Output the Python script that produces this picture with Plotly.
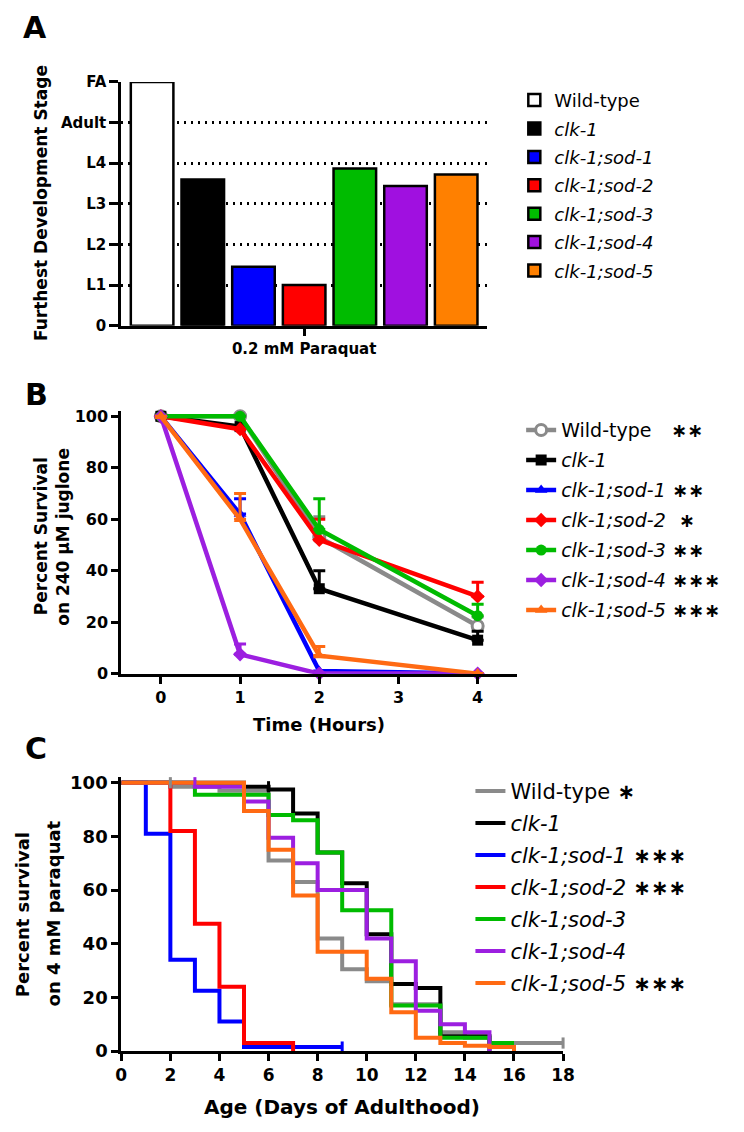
import plotly.graph_objects as go

# The page body has an 8px margin, so the figure is sized to fit the window exactly.
PAGE_W, PAGE_H = 744, 1132
OFF = 8
W, H = PAGE_W - 2 * OFF, PAGE_H - 2 * OFF
FONT = "DejaVu Sans"

# ---------------- data ----------------
strain_names = ["Wild-type", "<i>clk-1</i>", "<i>clk-1;sod-1</i>", "<i>clk-1;sod-2</i>",
                "<i>clk-1;sod-3</i>", "<i>clk-1;sod-4</i>", "<i>clk-1;sod-5</i>"]

# Panel A
stage_ticks = [0, 1, 2, 3, 4, 5, 6]
stage_labels = ["0", "L1", "L2", "L3", "L4", "Adult", "FA"]
stage_values = [6.0, 3.6, 1.45, 1.0, 3.87, 3.44, 3.72]
condition = ["0.2 mM Paraquat"]
colors_a = ["#ffffff", "#000000", "#0000ff", "#ff0000", "#00bb00", "#a010e0", "#ff8000"]

# Panel B
hours = [0, 1, 2, 4]
b_wt = [100, 100, 53, 18.5]
b_wt_err = [0, 0, 8, 3.5]
b_clk1 = [100, 96, 33, 13]
b_clk1_err = [0, 0, 7, 3.5]
b_sod1 = [100, 62, 1, 0]
b_sod1_err = [0, 6, 0, 0]
b_sod2 = [100, 95, 52, 30]
b_sod2_err = [0, 0, 8, 5.5]
b_sod3 = [100, 100, 56, 22.5]
b_sod3_err = [0, 0, 12, 4.5]
b_sod4 = [100, 7.5, 0, 0]
b_sod4_err = [0, 4, 0, 0]
b_sod5 = [100, 60, 7, 0]
b_sod5_err = [0, 10, 3.5, 0]
b_stars = ["\u00a0\u00a0\u00a0∗∗", "", "\u00a0∗∗", "\u00a0\u00a0∗", "\u00a0∗∗", "\u00a0∗∗∗", "\u00a0∗∗∗"]
colors_b = ["#8a8a8a", "#000000", "#0000ff", "#ff0000", "#00bb00", "#9c1fe0", "#ff6a13"]
symbols_b = ["circle", "square", "triangle-up", "diamond", "circle", "diamond", "triangle-up"]

# Panel C (Kaplan-Meier steps)
c_wt_t = [0, 2, 4, 6, 7, 8, 9, 10, 11, 13, 14, 15, 18]
c_wt_s = [100, 98.5, 97, 71, 63, 42, 30.5, 26, 17.5, 7, 5, 3, 3]
c_clk1_t = [0, 5, 6, 7, 8, 9, 10, 11, 12, 13, 15]
c_clk1_s = [100, 98.5, 97.5, 88.5, 74, 62.5, 43.5, 25, 23.5, 5.5, 0]
c_sod1_t = [0, 1, 2, 3, 4, 5, 9]
c_sod1_s = [100, 81, 34, 22.5, 11, 1.5, 1.5]
c_sod2_t = [0, 2, 3, 4, 5, 7]
c_sod2_s = [100, 82, 47.5, 24, 3, 0]
c_sod3_t = [0, 3, 6, 7, 8, 9, 11, 13, 15, 16]
c_sod3_s = [100, 95.5, 88, 86, 74, 52.5, 17, 5, 3, 3]
c_sod4_t = [0, 3, 5, 6, 7, 8, 10, 11, 12, 13, 14, 15]
c_sod4_s = [100, 98.5, 93, 79.5, 70, 60, 42, 33.5, 15, 10, 7, 0]
c_sod5_t = [0, 5, 6, 7, 8, 10, 11, 12, 13, 14, 15, 16]
c_sod5_s = [100, 89.5, 75, 58, 37, 27, 14.5, 5, 3, 2, 1.5, 0]
c_stars = ["\u00a0∗", "", "\u00a0∗∗∗", "\u00a0∗∗∗", "", "", "\u00a0∗∗∗"]
colors_c = ["#8a8a8a", "#000000", "#0000ff", "#ff0000", "#00bb00", "#9c1fe0", "#ff6a13"]

# censored observations (tick marks)
cens_x = [2, 6, 9, 3, 18]
cens_y = [100, 98.5, 1.5, 100, 3]
cens_color = ["#8a8a8a", "#000000", "#0000ff", "#9c1fe0", "#8a8a8a"]


def px_x(p):
    return (p - OFF) / W


def px_y(p):
    return 1 - (p - OFF) / H


fig = go.Figure()

# ---------------- Panel A ----------------
for name, val, col in zip(strain_names, stage_values, colors_a):
    fig.add_trace(go.Bar(
        x=condition, y=[val], name=name, marker=dict(color=col, line=dict(color="black", width=2.5)),
        xaxis="x", yaxis="y", legend="legend", legendgroup="a" + name,
    ))

# ---------------- Panel B ----------------
b_vals = [b_wt, b_clk1, b_sod1, b_sod2, b_sod3, b_sod4, b_sod5]
b_errs = [b_wt_err, b_clk1_err, b_sod1_err, b_sod2_err, b_sod3_err, b_sod4_err, b_sod5_err]
for i, (name, vals, errs, col, sym, st) in enumerate(zip(strain_names, b_vals, b_errs, colors_b, symbols_b, b_stars)):
    label = name + (f"<b>{st}</b>" if st else "")
    mk = dict(symbol=sym, size=11, color=col, line=dict(width=0))
    if i == 0:
        mk = dict(symbol="circle", size=11, color="white", line=dict(color=col, width=3))
    fig.add_trace(go.Scatter(
        x=hours, y=vals, mode="lines+markers", name=label,
        line=dict(color=col, width=4.5), marker=mk, cliponaxis=False,
        error_y=dict(type="data", array=errs, arrayminus=[0] * len(errs), symmetric=False,
                     color=col, thickness=3, width=6),
        xaxis="x2", yaxis="y2", legend="legend2", legendgroup="b" + name,
    ))

# ---------------- Panel C ----------------
c_t = [c_wt_t, c_clk1_t, c_sod1_t, c_sod2_t, c_sod3_t, c_sod4_t, c_sod5_t]
c_s = [c_wt_s, c_clk1_s, c_sod1_s, c_sod2_s, c_sod3_s, c_sod4_s, c_sod5_s]
for name, t, s, col, st in zip(strain_names, c_t, c_s, colors_c, c_stars):
    label = name + (f"<b>{st}</b>" if st else "")
    fig.add_trace(go.Scatter(
        x=t, y=s, mode="lines", name=label, line=dict(color=col, width=4, shape="hv"),
        cliponaxis=False, xaxis="x3", yaxis="y3", legend="legend3", legendgroup="c" + name,
    ))
fig.add_trace(go.Scatter(
    x=cens_x, y=cens_y, mode="markers", showlegend=False, cliponaxis=False,
    marker=dict(symbol="line-ns", size=8, line=dict(color=cens_color, width=3)),
    xaxis="x3", yaxis="y3",
))

axis_common = dict(showline=True, linecolor="black", linewidth=3, ticks="outside",
                   tickcolor="black", tickwidth=3, showgrid=False, zeroline=False)


def tf(size):
    return dict(family=FONT, size=size, color="black", weight="bold")


fig.update_layout(
    width=W, height=H, margin=dict(l=0, r=0, t=0, b=0),
    paper_bgcolor="white", plot_bgcolor="white",
    barmode="group", bargap=0.03, bargroupgap=0.16,
    xaxis=dict(domain=[px_x(118), px_x(493)], anchor="y", type="category", range=[-0.5, 0.5],
               ticklen=7, tickfont=tf(15), **axis_common),
    yaxis=dict(domain=[px_y(322), px_y(74)], anchor="x", range=[0, 6], tickmode="array",
               tickvals=stage_ticks, ticktext=stage_labels, ticklen=9, tickfont=tf(15),
               minor=dict(tickmode="array", tickvals=[1, 2, 3, 4, 5], showgrid=True, griddash="2px,5px",
                          gridcolor="black", gridwidth=2.5, ticks=""),
               **axis_common),
    xaxis2=dict(domain=[px_x(118), px_x(524)], anchor="y2", range=[-0.5, 4.5], tickvals=[0, 1, 2, 3, 4],
                ticklen=7, tickfont=tf(16), **axis_common),
    yaxis2=dict(domain=[px_y(676), px_y(409)], anchor="x2", range=[0, 102], tickvals=[0, 20, 40, 60, 80, 100],
                ticklen=7, tickfont=tf(16), **axis_common),
    xaxis3=dict(domain=[px_x(118), px_x(571)], anchor="y3", range=[0, 18], tickvals=list(range(0, 19, 2)),
                ticklen=7, tickfont=tf(17), **axis_common),
    yaxis3=dict(domain=[px_y(1060), px_y(781)], anchor="x3", range=[0, 102.2], tickvals=[0, 20, 40, 60, 80, 100],
                ticklen=7, tickfont=tf(18), **axis_common),
    legend=dict(x=px_x(521), y=px_y(74), xanchor="left", yanchor="top", bgcolor="rgba(0,0,0,0)",
                font=dict(family=FONT, size=18, color="black"), traceorder="grouped", tracegroupgap=2),
    legend2=dict(x=px_x(528), y=px_y(409), xanchor="left", yanchor="top", bgcolor="rgba(0,0,0,0)",
                 font=dict(family=FONT, size=19, color="black"), traceorder="grouped", tracegroupgap=2.3),
    legend3=dict(x=px_x(476), y=px_y(775), xanchor="left", yanchor="top", bgcolor="rgba(0,0,0,0)",
                 font=dict(family=FONT, size=21, color="black"), traceorder="grouped", tracegroupgap=1.7),
    showlegend=True,
)

annotations = [
    dict(text="A", x=px_x(30), y=px_y(19), font=tf(30)),
    dict(text="B", x=px_x(31), y=px_y(392), font=tf(30)),
    dict(text="C", x=px_x(31), y=px_y(752), font=tf(30)),
    dict(text="Furthest Development Stage", x=px_x(35), y=px_y(197), textangle=-90, font=tf(17)),
    dict(text="Percent Survival", x=px_x(36), y=px_y(536), textangle=-90, font=tf(17)),
    dict(text="on 240 μM juglone", x=px_x(58), y=px_y(537), textangle=-90, font=tf(17)),
    dict(text="Time (Hours)", x=px_x(321), y=px_y(728), font=tf(18)),
    dict(text="Percent survival", x=px_x(17), y=px_y(921), textangle=-90, font=tf(18)),
    dict(text="on 4 mM paraquat", x=px_x(48), y=px_y(920), textangle=-90, font=tf(18)),
    dict(text="Age (Days of Adulthood)", x=px_x(344), y=px_y(1117), font=tf(20)),
]
for a in annotations:
    a.update(xref="paper", yref="paper", xanchor="center", yanchor="middle", showarrow=False)
fig.update_layout(annotations=annotations)

fig.write_html("out.html")
